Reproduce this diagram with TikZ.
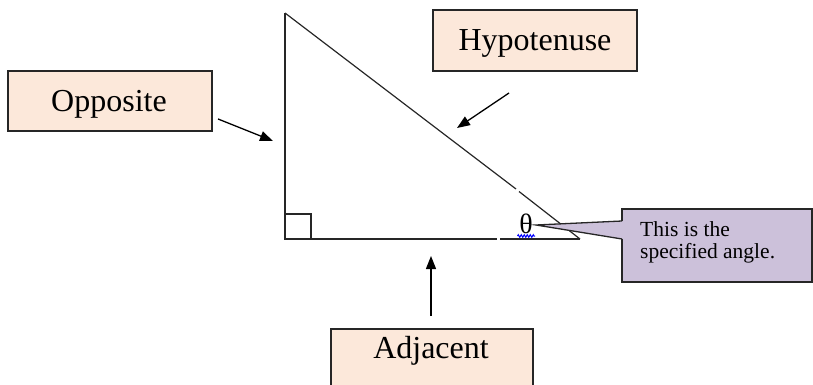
\documentclass[tikz,border=0pt]{standalone}
\usepackage{fontspec}
\setmainfont{Liberation Serif}
\usetikzlibrary{arrows.meta,decorations.pathmorphing}
\definecolor{peach}{HTML}{FCE8DA}
\definecolor{lav}{HTML}{CCC1DA}
\tikzset{
  pbox/.style={draw=black!85, line width=1.3pt, fill=peach, rectangle, inner sep=0pt},
  lbl/.style={font=\fontsize{32}{38}\selectfont, inner sep=0pt},
  arr/.style={line width=1.3pt, -{Triangle[length=13pt,width=10pt]}},
  tri/.style={line width=1.2pt, black!85},
}
\begin{document}
\begin{tikzpicture}[x=1pt,y=-1pt]
\useasboundingbox (0,0) rectangle (813,385);
% triangle
\coordinate (A) at (285,13);
\coordinate (B) at (285,239);
\coordinate (C) at (580,239);
\draw[tri] (A) -- (B) -- (497,239);
\draw[tri] (500,239) -- (C);
\draw[tri] (A) -- (516,189);
\draw[tri] (519,191.5) -- (C);
\draw[tri] (285,214) -- (311,214) -- (311,239);
% boxes
\node[pbox, minimum width=204, minimum height=60] (opp) at (110,101) {};
\node[lbl, anchor=base] at (109,111) {Opposite};
\node[pbox, minimum width=204, minimum height=61] (hyp) at (535,40.5) {};
\node[lbl, anchor=base] at (535,51) {Hypotenuse};
\node[pbox, minimum width=202, minimum height=70] (adj) at (432,364) {};
\node[lbl, anchor=base] at (431,358) {Adjacent};
% arrows
\coordinate (o1) at (218,119); \coordinate (o2) at (273,141);
\coordinate (h1) at (509,93);  \coordinate (h2) at (457,128);
\coordinate (a1) at (431,316); \coordinate (a2) at (431,256);
\draw[arr] (o1) -- (o2);
\draw[arr] (h1) -- (h2);
\draw[arr] (a1) -- (a2);
% theta
\node[font=\fontsize{28}{30}\selectfont, inner sep=0pt, anchor=base] (th) at (526,233) {θ};
\draw[blue, line width=1pt, decorate, decoration={zigzag, segment length=3pt, amplitude=1.3pt}] (517.5,236) -- (535,236);
% callout
\coordinate (tip) at (536,225);
\node[draw=black!85, line width=1.3pt, fill=lav, minimum width=190, minimum height=73, inner sep=0pt] (call) at (717,245.5) {};
\fill[lav] (tip) -- (623.5,221) -- (623.5,239) -- cycle;
\draw[line width=1.3pt, black!85] (622,221) -- (tip) -- (622,239);
\fill[lav] (621,222) rectangle (624,238);
\node[font=\fontsize{21.5}{22}\selectfont, align=left, anchor=north west, inner sep=0pt] (ct) at (640,221) {This is the\\specified angle.};
\end{tikzpicture}
\end{document}
